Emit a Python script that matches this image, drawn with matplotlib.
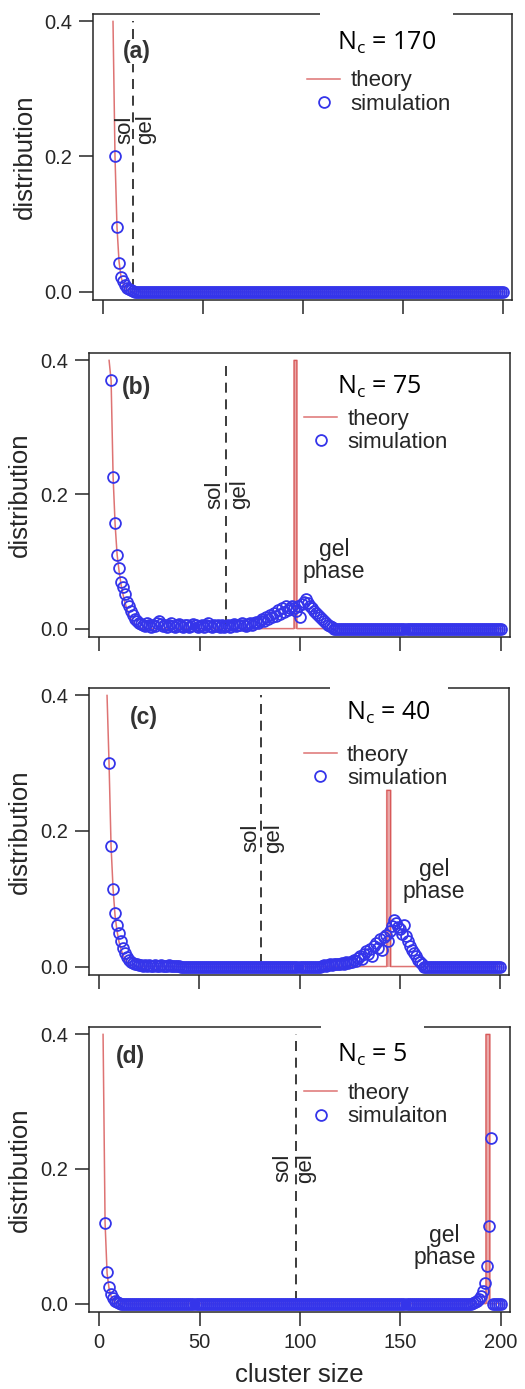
import numpy as np
import matplotlib
matplotlib.use("Agg")
import matplotlib.pyplot as plt

plt.rcParams['font.family'] = ['Liberation Sans', 'DejaVu Sans']

# ---- data ----
nc_values = [170, 75, 40, 5]
panel_tags = ['(a)', '(b)', '(c)', '(d)']
sim_labels = ['simulation', 'simulation', 'simulation', 'simulaiton']
solgel_x = [15, 63, 81, 98]

# (a) N_c = 170
sim_a_x = np.arange(6, 201)
sim_a_y = [0.2, 0.095, 0.042, 0.022, 0.015, 0.01, 0.006, 0.004, 0.002, 0.001] + [0.0] * 185
theory_a_x = [5, 6, 7, 8, 9, 10, 11, 12, 13, 14, 200]
theory_a_y = [0.4, 0.2, 0.095, 0.045, 0.022, 0.012, 0.006, 0.003, 0.001, 0.0, 0.0]

# (b) N_c = 75
sim_b_x = np.arange(6, 201)
sim_b_y = ([0.37, 0.226, 0.157, 0.11, 0.091, 0.069, 0.062, 0.052, 0.04, 0.034,
            0.026, 0.02, 0.015, 0.012, 0.009, 0.007]
           + [0.006, 0.004, 0.008, 0.005, 0.003, 0.006, 0.004, 0.009, 0.012, 0.007,
              0.004, 0.005, 0.003, 0.006, 0.008, 0.004, 0.002, 0.005, 0.007, 0.004,
              0.003, 0.006, 0.005, 0.002, 0.004, 0.007, 0.005, 0.003, 0.004, 0.006,
              0.003, 0.005, 0.008, 0.004, 0.002, 0.005, 0.004, 0.006, 0.003, 0.005,
              0.002, 0.004, 0.006, 0.003, 0.005, 0.007, 0.004, 0.006, 0.005, 0.008,
              0.006, 0.004, 0.007, 0.009, 0.006, 0.008]
           + [0.01, 0.008, 0.012, 0.015, 0.011, 0.018, 0.014, 0.02, 0.017, 0.024,
              0.019, 0.028, 0.022, 0.03, 0.025, 0.033, 0.028, 0.031, 0.034, 0.03,
              0.026, 0.033, 0.018, 0.036, 0.04, 0.044, 0.038, 0.034, 0.03, 0.027,
              0.024, 0.021, 0.018, 0.015, 0.012, 0.009, 0.006, 0.004, 0.002]
           + [0.0] * 84)
theory_b_x = [5, 6, 7, 8, 9, 10, 11, 12, 13, 14, 15, 16, 17, 18, 19, 20, 22,
              97, 97, 98.5, 98.5, 200]
theory_b_y = [0.4, 0.37, 0.226, 0.155, 0.11, 0.085, 0.065, 0.05, 0.038, 0.028,
              0.02, 0.014, 0.009, 0.006, 0.003, 0.001, 0.0,
              0.0, 0.4, 0.4, 0.0, 0.0]

# (c) N_c = 40
sim_c_x = np.arange(5, 201)
sim_c_y = ([0.301, 0.178, 0.115, 0.079, 0.062, 0.05, 0.037, 0.028, 0.02, 0.014,
            0.01, 0.007, 0.005, 0.004, 0.003, 0.002]
           + [0.002, 0.001, 0.002, 0.001, 0.002, 0.001, 0.001, 0.002, 0.001, 0.001,
              0.002, 0.001, 0.001, 0.001, 0.002, 0.001, 0.001, 0.001, 0.001, 0.001]
           + [0.0] * 70
           + [0.001, 0.002, 0.001, 0.002, 0.003, 0.002, 0.003, 0.004, 0.003, 0.004,
              0.005, 0.004, 0.006, 0.005, 0.007]
           + [0.006, 0.009, 0.008, 0.012, 0.015, 0.011, 0.018, 0.023, 0.018, 0.026,
              0.015, 0.03, 0.035, 0.028, 0.04, 0.025, 0.043, 0.047, 0.037, 0.052,
              0.06, 0.069, 0.064, 0.058, 0.055, 0.048, 0.062, 0.045, 0.038, 0.03,
              0.024, 0.02, 0.015, 0.01, 0.006, 0.003]
           + [0.0] * 39)
theory_c_x = [4, 5, 6, 7, 8, 9, 10, 11, 12, 13, 14, 15, 16, 18,
              143.5, 143.5, 145.5, 145.5, 200]
theory_c_y = [0.4, 0.3, 0.178, 0.115, 0.075, 0.052, 0.036, 0.025, 0.017, 0.011,
              0.007, 0.004, 0.002, 0.0, 0.0, 0.26, 0.26, 0.0, 0.0]

# (d) N_c = 5
sim_d_x = np.arange(3, 201)
sim_d_y = ([0.12, 0.047, 0.024, 0.014, 0.008, 0.004, 0.002, 0.001]
           + [0.0] * 175
           + [0.001, 0.002, 0.004, 0.007, 0.012, 0.018, 0.03, 0.056, 0.116, 0.246]
           + [0.0] * 5)
theory_d_x = [2, 3, 4, 5, 6, 7, 8, 10, 192.5, 192.5, 194.5, 194.5, 200]
theory_d_y = [0.4, 0.12, 0.045, 0.022, 0.011, 0.005, 0.002, 0.0,
              0.0, 0.4, 0.4, 0.0, 0.0]

sim_x = [sim_a_x, sim_b_x, sim_c_x, sim_d_x]
sim_y = [sim_a_y, sim_b_y, sim_c_y, sim_d_y]
theory_x = [theory_a_x, theory_b_x, theory_c_x, theory_d_x]
theory_y = [theory_a_y, theory_b_y, theory_c_y, theory_d_y]

# ---- layout (pixels of a 525 x 1389 canvas) ----
W, H = 525, 1389
frames = [(93, 14, 512, 300), (89, 353, 510, 637), (89, 688, 509, 975), (89, 1027, 510, 1312)]
tag_pos = [(16.8, 0.355), (18.5, 0.359), (22.2, 0.367), (15.5, 0.367)]
sol_pos = [(11, 21.5, 0.24), (57.7, 70.2, 0.2), (75.5, 87.2, 0.19), (91.3, 103, 0.202)]
gel_phase_pos = [None, (116.8, 0.102), (167, 0.127), (172, 0.085)]
nc_pos = [(0.582, 0.874), (0.59, 0.858), (0.613, 0.888), (0.59, 0.878)]
nc_box = [True, False, True, True]

red = '#d03838'
blue = '#3535ea'
dark = '#262626'

fig = plt.figure(figsize=(W / 100, H / 100), dpi=100)

for i in range(4):
    l, t, r, b = frames[i]
    ax = fig.add_axes([l / W, (H - b) / H, (r - l) / W, (b - t) / H])

    tx = np.array(theory_x[i])
    ty = np.array(theory_y[i])
    ax.fill_between(tx, ty, where=tx > solgel_x[i], color='#eaa8a8', lw=0, zorder=1.9)
    th, = ax.plot(tx, ty, color=red, lw=1.1, alpha=0.7, zorder=2)
    sim, = ax.plot(sim_x[i], sim_y[i], ls='none', marker='o', ms=7.8, mew=1.3,
                   mec=blue, mfc='none', zorder=3)

    ax.vlines(solgel_x[i], 0.004, 0.4, colors='#1a1a1a', lw=1.2, linestyles=(0, (6, 4)), zorder=1.5)
    sx, gx, sy = sol_pos[i]
    ax.text(sx, sy, 'sol', rotation=90, ha='center', va='center', fontsize=16, color=dark)
    ax.text(gx, sy, 'gel', rotation=90, ha='center', va='center', fontsize=16, color=dark)

    ax.text(tag_pos[i][0], tag_pos[i][1], panel_tags[i], ha='center', va='center',
            fontsize=16.5, fontweight='bold', color='#333333', zorder=4,
            bbox=dict(facecolor='white', edgecolor='none', pad=0.5))

    if gel_phase_pos[i] is not None:
        ax.text(gel_phase_pos[i][0], gel_phase_pos[i][1], 'gel\nphase', ha='center',
                va='center', multialignment='center', fontsize=16.5, linespacing=0.95,
                color=dark)

    box = dict(facecolor='white', edgecolor='none', pad=12) if nc_box[i] else None
    ax.text(nc_pos[i][0], nc_pos[i][1], r'N$_\mathregular{c}$ = %d' % nc_values[i],
            transform=ax.transAxes, ha='left', va='baseline', fontsize=18,
            family=['Open Sans', 'DejaVu Sans'], color='black', zorder=4, bbox=box)

    ax.legend([th, sim], ['theory', sim_labels[i]], loc='upper left',
              bbox_to_anchor=(0.511, 0.803), frameon=False, borderpad=0,
              borderaxespad=0, handlelength=1.5, handletextpad=0.45,
              labelspacing=0.1, fontsize=16, labelcolor=dark)

    ax.set_xlim(-5, 204.5)
    ax.set_ylim(-0.0125, 0.411)
    ax.set_xticks([0, 50, 100, 150, 200])
    ax.set_yticks([0.0, 0.2, 0.4])
    ax.set_yticklabels(['0.0', '0.2', '0.4'])
    ax.tick_params(direction='out', length=10, width=1.1, pad=5, labelsize=14.5,
                   colors=dark)
    for sp in ax.spines.values():
        sp.set_linewidth(1.1)
        sp.set_color(dark)
    ax.set_ylabel('distribution', fontsize=18.5, color=dark)
    ax.yaxis.set_label_coords(-0.135, 0.5)
    if i < 3:
        ax.tick_params(labelbottom=False)
    else:
        ax.set_xlabel('cluster size', fontsize=18.5, color=dark)
        ax.xaxis.set_label_coords(0.5, -0.18)

fig.savefig('out.png', dpi=100)
